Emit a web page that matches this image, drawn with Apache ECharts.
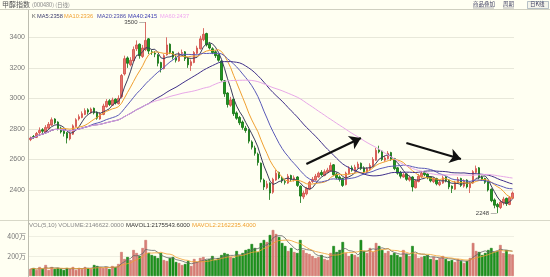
<!DOCTYPE html>
<html><head><meta charset="utf-8">
<script src="https://cdn.jsdelivr.net/npm/echarts@6/dist/echarts.min.js"></script>
<style>html,body{margin:0;padding:0;background:#FFFFF2;}#c{width:550px;height:277px;}</style>
</head><body><div id="c"></div>
<script>
const opens = [2730,2750,2745,2775,2795,2780,2805,2825,2865,2845,
2805,2785,2775,2735,2765,2815,2865,2875,2895,2925,
2905,2935,2910,2865,2895,2945,2985,2955,2995,2965,
3010,3160,3265,3220,3245,3325,3355,3275,3320,3390,
3305,3295,3285,3235,3195,3285,3355,3305,3265,3245,
3295,3305,3265,3215,3235,3295,3325,3385,3425,3355,
3325,3305,3285,3245,3115,3035,2955,2995,2905,2875,
2845,2805,2795,2715,2675,2635,2575,2465,2415,2445,
2385,2465,2515,2475,2455,2445,2495,2465,2485,2425,
2355,2375,2405,2455,2465,2485,2515,2495,2515,2525,
2565,2505,2485,2475,2435,2505,2545,2525,2545,2575,
2545,2515,2535,2555,2595,2665,2655,2595,2605,2645,
2605,2545,2515,2485,2505,2465,2485,2415,2455,2485,
2515,2505,2485,2455,2475,2435,2445,2485,2465,2425,
2405,2445,2475,2425,2465,2415,2445,2515,2545,2485,
2475,2455,2405,2335,2305,2285,2315,2345,2305,2345];
const closes = [2740,2745,2770,2790,2785,2810,2830,2860,2840,2800,
2780,2770,2740,2770,2820,2860,2880,2900,2920,2910,
2930,2905,2870,2900,2950,2980,2960,2990,2970,3000,
3150,3260,3230,3250,3320,3350,3280,3330,3380,3310,
3300,3290,3230,3200,3280,3350,3300,3270,3250,3290,
3300,3260,3220,3240,3300,3330,3390,3420,3350,3330,
3300,3280,3250,3120,3030,2960,2990,2900,2870,2840,
2810,2790,2720,2680,2640,2580,2470,2420,2440,2380,
2470,2510,2480,2460,2450,2490,2470,2480,2430,2360,
2380,2410,2450,2470,2490,2510,2500,2520,2530,2560,
2500,2480,2470,2430,2510,2540,2530,2550,2570,2540,
2520,2540,2560,2600,2660,2650,2600,2610,2640,2600,
2540,2510,2490,2500,2470,2480,2420,2460,2490,2510,
2500,2480,2460,2470,2440,2450,2480,2460,2420,2410,
2450,2470,2430,2460,2420,2440,2520,2540,2480,2470,
2450,2400,2330,2300,2290,2320,2340,2310,2350,2380];
const lows = [2720,2735,2740,2765,2770,2775,2795,2820,2830,2790,
2770,2750,2705,2725,2760,2810,2855,2870,2890,2895,
2900,2895,2860,2860,2890,2940,2950,2950,2960,2960,
3000,3150,3200,3210,3240,3310,3260,3265,3310,3290,
3285,3270,3210,3170,3190,3280,3290,3255,3235,3240,
3280,3245,3200,3180,3230,3290,3320,3375,3340,3320,
3290,3265,3240,3110,3010,2940,2945,2885,2860,2825,
2795,2775,2705,2665,2625,2560,2450,2400,2405,2335,
2375,2460,2470,2445,2435,2440,2455,2455,2420,2315,
2340,2365,2400,2445,2460,2480,2490,2490,2510,2520,
2490,2470,2455,2420,2430,2500,2520,2520,2540,2530,
2505,2510,2530,2550,2590,2640,2590,2585,2600,2590,
2530,2500,2475,2480,2460,2455,2390,2410,2450,2480,
2490,2470,2450,2445,2430,2425,2440,2450,2405,2380,
2400,2440,2420,2415,2410,2380,2440,2510,2470,2460,
2440,2390,2320,2280,2248,2275,2300,2295,2300,2340];
const highs = [2750,2760,2780,2810,2805,2825,2845,2875,2870,2850,
2815,2795,2780,2780,2830,2870,2895,2915,2935,2935,
2940,2940,2915,2910,2965,2995,2995,3005,3000,3020,
3160,3280,3275,3270,3340,3380,3360,3350,3500,3395,
3320,3310,3290,3240,3290,3400,3360,3310,3280,3305,
3320,3310,3270,3255,3310,3345,3410,3460,3430,3370,
3335,3315,3290,3250,3120,3040,3010,3000,2915,2885,
2855,2820,2800,2725,2690,2645,2580,2475,2460,2450,
2480,2530,2520,2490,2470,2505,2500,2495,2490,2430,
2395,2420,2460,2485,2505,2520,2530,2535,2545,2580,
2570,2515,2495,2480,2520,2555,2560,2565,2585,2580,
2555,2550,2575,2615,2675,2690,2660,2625,2655,2650,
2610,2550,2525,2515,2510,2495,2490,2470,2505,2525,
2525,2510,2490,2485,2480,2465,2495,2490,2470,2430,
2460,2485,2480,2470,2470,2455,2530,2560,2550,2495,
2480,2460,2410,2345,2315,2335,2355,2350,2360,2390];
// volume in units of 10,000 (万)
const volumes = [70,80,60,90,70,110,60,90,70,80,
70,60,80,70,90,60,80,70,90,80,
70,110,100,90,80,90,70,100,90,120,
240,170,190,160,260,230,200,280,360,230,
210,200,180,230,160,150,180,190,140,130,
110,120,150,100,170,140,180,190,160,170,
200,160,180,210,230,220,190,180,250,210,
230,260,270,320,280,240,330,360,340,410,
460,420,390,330,300,250,280,240,230,360,
260,230,220,200,180,190,210,170,160,230,
300,240,260,340,230,200,220,210,190,360,
250,230,280,240,330,300,260,230,250,210,
230,210,190,260,220,200,300,220,180,190,
200,210,170,190,160,180,200,170,150,160,
140,170,150,130,150,180,330,250,240,210,
230,260,280,240,250,310,230,260,220,215];
const categories = closes.map((_, i) => String(i + 1));
const maLabels = ['MA5:2358','MA10:2336','MA20:2386','MA40:2415','MA60:2437'];
const volLabels = ['VOL(5,10) VOLUME:2146622.0000','MAVOL1:2175543.6000','MAVOL2:2162235.4000'];
const priceTicks = [2400,2600,2800,3000,3200,3400];
const arrows = [[[91,2570],[109,2741]],[[124,2708],[142,2603]]];

function ma(arr, n){
  return arr.map((_, i) => {
    const s = Math.max(0, i - n + 1); let sum = 0;
    for (let k = s; k <= i; k++) sum += arr[k];
    return +(sum / (i - s + 1)).toFixed(2);
  });
}
const UP = '#e2746e', UPB = '#d24a44', DN = '#1e961e', DNB = '#0d700d';
const candleData = opens.map((o, i) => [o, closes[i], lows[i], highs[i]]);
const volData = volumes.map((v, i) => ({
  value: v * 10000,
  itemStyle: closes[i] >= opens[i] ? {color: '#d98078', borderColor:'#c86a62', borderWidth:0.5} : {color: DN, borderColor: DNB, borderWidth:0.5}
}));
const volAbs = volumes.map(v => v * 10000);

const maCfg = [[5,'#3c3c5c'],[10,'#f0a030'],[20,'#5a5ab8'],[40,'#40308a'],[60,'#e8a8e8']];
const maColorsText = ['#3c3c6c','#f0a030','#4a4aa8','#3a3ab0','#f0a8f0'];

const LF = 'Liberation Sans';
const chart = echarts.init(document.getElementById('c'), null, {renderer:'canvas'});
const g = [];
g.push({type:'line', shape:{x1:0,y1:9.5,x2:550,y2:9.5}, style:{stroke:'#cfcfc0',lineWidth:1}, silent:true});
g.push({type:'line', shape:{x1:0,y1:220.5,x2:550,y2:220.5}, style:{stroke:'#d8d8c8',lineWidth:1}, silent:true});
g.push({type:'line', shape:{x1:28.5,y1:10,x2:28.5,y2:277}, style:{stroke:'#bdbdb0',lineWidth:1}, silent:true});
g.push({type:'text', x:2, y:1, style:{text:'甲醇指数', font:'7px "Noto Sans CJK SC"', fill:'#555'}});
g.push({type:'text', x:32, y:2, style:{text:'(000480) (日线)', font:'5.5px "Noto Sans CJK SC"', fill:'#888'}});
g.push({type:'text', x:473, y:1, style:{text:'商品叠加', font:'5.5px "Noto Sans CJK SC"', fill:'#446'}});
g.push({type:'line', shape:{x1:473,y1:8,x2:494,y2:8}, style:{stroke:'#667',lineWidth:0.5}});
g.push({type:'text', x:503, y:1, style:{text:'周期', font:'5.5px "Noto Sans CJK SC"', fill:'#446'}});
g.push({type:'line', shape:{x1:503,y1:8,x2:514,y2:8}, style:{stroke:'#667',lineWidth:0.5}});
g.push({type:'rect', shape:{x:527.5,y:1.5,width:21,height:7}, style:{fill:'#f4f4ea',stroke:'#8899aa',lineWidth:0.6}});
g.push({type:'text', x:530, y:1.5, style:{text:'日K线', font:'5.5px "Noto Sans CJK SC"', fill:'#446'}});
g.push({type:'text', x:32, y:13, style:{text:'K', font:'5.7px "'+LF+'"', fill:'#555'}});
const maX = [37, 64, 97, 128, 160];
maLabels.forEach((t, k) => g.push({type:'text', x:maX[k], y:13, style:{text:t, font:'5.7px "'+LF+'"', fill:maColorsText[k]}}));
const volX = [29, 126, 192];
const volCol = ['#888','#333','#f0a030'];
volLabels.forEach((t, k) => g.push({type:'text', x:volX[k], y:222, style:{text:t, font:'6px "'+LF+'"', fill:volCol[k]}}));

const series = [{
  type:'candlestick', data:candleData, barWidth:2, z:3,
  itemStyle:{color:UP, color0:DN, borderColor:UPB, borderColor0:DNB, borderWidth:0.8},
  markPoint:{
    symbol:'circle', symbolSize:1, itemStyle:{color:'rgba(0,0,0,0)'},
    label:{show:true, position:'left', distance:0, color:'#444', fontSize:6, fontFamily:LF, formatter:p => p.value + ' —'},
    data:[{type:'max', valueDim:'highest'},{type:'min', valueDim:'lowest'}]
  },
  markLine:{
    silent:true, symbol:['none','arrow'], symbolSize:11,
    lineStyle:{color:'#111', width:2.2, type:'solid'}, itemStyle:{color:'#111'}, label:{show:false},
    data: arrows.map(a => [{coord:a[0], symbol:'none'},{coord:a[1], symbol:'arrow', symbolSize:11}])
  }
}];
maCfg.forEach(([n,c]) => series.push({type:'line', data:ma(closes,n), showSymbol:false, symbol:'none', lineStyle:{color:c, width:1}, z:4, silent:true}));
series.push({type:'bar', xAxisIndex:1, yAxisIndex:1, data:volData, barWidth:2.6});
series.push({type:'line', xAxisIndex:1, yAxisIndex:1, data:ma(volAbs,5), symbol:'none', lineStyle:{color:'#666', width:0.8}, z:4});
series.push({type:'line', xAxisIndex:1, yAxisIndex:1, data:ma(volAbs,10), symbol:'none', lineStyle:{color:'#f0a030', width:0.8}, z:4});

chart.setOption({
  animation:false,
  backgroundColor:'#FFFFF2',
  grid:[{left:29, right:36, top:6.8, height:213.7},{left:29, right:36, top:226, height:50}],
  xAxis:[
    {type:'category', data:categories, gridIndex:0, boundaryGap:true, axisLine:{show:false}, axisTick:{show:false}, axisLabel:{show:false}, splitLine:{show:false}},
    {type:'category', data:categories, gridIndex:1, boundaryGap:true, axisLine:{show:false}, axisTick:{show:false}, axisLabel:{show:false}, splitLine:{show:false}}
  ],
  yAxis:[
    {type:'value', gridIndex:0, min:2200, max:3600, interval:200, axisLine:{show:false}, axisTick:{show:false},
     axisLabel:{color:'#777', fontSize:7, fontFamily:LF, margin:4, formatter:v => priceTicks.includes(v) ? String(v) : ''},
     splitLine:{show:true, showMinLine:false, showMaxLine:false, lineStyle:{color:'#e8e8da', width:1}}},
    {type:'value', gridIndex:1, min:0, max:5000000, interval:2000000, axisLine:{show:false}, axisTick:{show:false},
     axisLabel:{color:'#777', fontSize:7, fontFamily:'"Noto Sans CJK SC"', margin:3, formatter:v => (v===2000000||v===4000000) ? (v/10000)+'万' : ''},
     splitLine:{show:true, showMinLine:false, showMaxLine:false, lineStyle:{color:'#efefe2', width:1}}}
  ],
  series:series,
  graphic:g
});
</script></body></html>
